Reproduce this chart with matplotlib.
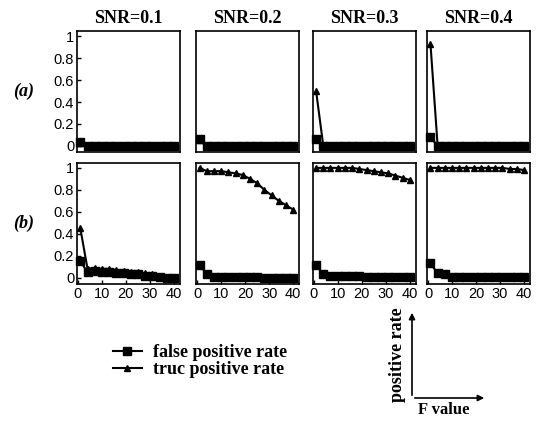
import matplotlib.pyplot as plt
from matplotlib.patches import FancyArrowPatch

# F values sampled along the x axis
f_vals = [1, 4, 7, 10, 13, 16, 19, 22, 25, 28, 31, 34, 37, 40]
snr_titles = ["SNR=0.1", "SNR=0.2", "SNR=0.3", "SNR=0.4"]
row_labels = ["(a)", "(b)"]

# row (a)
fp_a = [
    [0.04, 0, 0, 0, 0, 0, 0, 0, 0, 0, 0, 0, 0, 0],
    [0.06, 0, 0, 0, 0, 0, 0, 0, 0, 0, 0, 0, 0, 0],
    [0.06, 0, 0, 0, 0, 0, 0, 0, 0, 0, 0, 0, 0, 0],
    [0.08, 0, 0, 0, 0, 0, 0, 0, 0, 0, 0, 0, 0, 0],
]
tp_a = [
    [0.03, 0, 0, 0, 0, 0, 0, 0, 0, 0, 0, 0, 0, 0],
    [0.05, 0, 0, 0, 0, 0, 0, 0, 0, 0, 0, 0, 0, 0],
    [0.50, 0, 0, 0, 0, 0, 0, 0, 0, 0, 0, 0, 0, 0],
    [0.93, 0, 0, 0, 0, 0, 0, 0, 0, 0, 0, 0, 0, 0],
]
# row (b)
fp_b = [
    [0.15, 0.05, 0.06, 0.05, 0.05, 0.04, 0.04, 0.03, 0.03, 0.02, 0.02, 0.01, 0.0, 0.0],
    [0.12, 0.03, 0.01, 0.01, 0.01, 0.01, 0.01, 0.01, 0.01, 0.0, 0.0, 0.0, 0.0, 0.0],
    [0.12, 0.03, 0.02, 0.02, 0.02, 0.02, 0.02, 0.01, 0.01, 0.01, 0.01, 0.01, 0.01, 0.01],
    [0.13, 0.04, 0.03, 0.01, 0.01, 0.01, 0.01, 0.01, 0.01, 0.01, 0.01, 0.01, 0.01, 0.01],
]
tp_b = [
    [0.45, 0.08, 0.09, 0.08, 0.08, 0.07, 0.06, 0.05, 0.05, 0.04, 0.03, 0.02, 0.01, 0.01],
    [1.0, 0.97, 0.97, 0.97, 0.96, 0.95, 0.935, 0.90, 0.86, 0.80, 0.75, 0.70, 0.66, 0.62],
    [1.0, 1.0, 1.0, 1.0, 1.0, 1.0, 0.99, 0.98, 0.97, 0.96, 0.95, 0.93, 0.91, 0.89],
    [1.0, 1.0, 1.0, 1.0, 1.0, 1.0, 1.0, 1.0, 1.0, 1.0, 1.0, 0.99, 0.99, 0.98],
]

serif = ["Liberation Serif", "DejaVu Serif"]
sans = ["Liberation Sans", "DejaVu Sans"]

fig = plt.figure(figsize=(5.42, 4.21), dpi=100)

lefts = [0.142, 0.362, 0.577, 0.788]
bottoms = [0.639, 0.326]
w, h = 0.19, 0.287

rows = [(fp_a, tp_a), (fp_b, tp_b)]
for r, (fp, tp) in enumerate(rows):
    for c in range(4):
        ax = fig.add_axes([lefts[c], bottoms[r], w, h])
        ax.plot(f_vals, tp[c], color="black", lw=1.5, marker="^", ms=5, clip_on=False)
        ax.plot(f_vals, fp[c], color="black", lw=1.5, marker="s", ms=6, clip_on=False)
        ax.set_xlim(-0.4, 42.5)
        ax.set_ylim(-0.055, 1.045)
        ax.set_xticks([0, 10, 20, 30, 40])
        ax.set_yticks([0, 0.2, 0.4, 0.6, 0.8, 1])
        ax.set_yticklabels(["0", "0.2", "0.4", "0.6", "0.8", "1"])
        ax.tick_params(direction="in", length=3, labelsize=10.5, width=1, pad=2)
        for lab in ax.get_xticklabels() + ax.get_yticklabels():
            lab.set_family(sans)
        for sp in ax.spines.values():
            sp.set_linewidth(1.2)
        if c != 0:
            ax.tick_params(axis="y", left=False, labelleft=False)
        if r == 0:
            ax.tick_params(axis="x", bottom=False, labelbottom=False)
            ax.set_title(snr_titles[c], family=serif, fontweight="bold",
                         fontsize=13, pad=6)

for r, lab in enumerate(row_labels):
    fig.text(0.043, bottoms[r] + h * 0.5, lab, family=serif, fontweight="bold",
             fontstyle="italic", fontsize=13, ha="center", va="center")

# legend
leg_ax = fig.add_axes([0.195, 0.1, 0.4, 0.1])
leg_ax.axis("off")
leg_ax.plot([], [], color="black", lw=1.5, marker="s", ms=6, label="false positive rate")
leg_ax.plot([], [], color="black", lw=1.5, marker="^", ms=5, label="truc positive rate")
leg_ax.legend(loc="upper left", bbox_to_anchor=(0, 1.0), frameon=False,
              handlelength=1.6, handletextpad=0.6, labelspacing=0.0, borderaxespad=0,
              prop={"family": serif, "weight": "bold", "size": 13})

# axis-direction sketch
fig.patches.append(FancyArrowPatch(
    (412, 421 - 398), (412, 421 - 310), transform=None, arrowstyle="-|>",
    mutation_scale=9, lw=1.2, color="black"))
fig.patches.append(FancyArrowPatch(
    (412, 421 - 398), (487, 421 - 398), transform=None, arrowstyle="-|>",
    mutation_scale=9, lw=1.2, color="black"))
fig.text(398 / 542, 1 - 355 / 421, "positive rate", rotation=90, family=serif,
         fontweight="bold", fontsize=13, ha="center", va="center")
fig.text(444 / 542, 1 - 410 / 421, "F value", family=serif,
         fontweight="bold", fontsize=12, ha="center", va="center")

fig.savefig("out.png", dpi=100)
